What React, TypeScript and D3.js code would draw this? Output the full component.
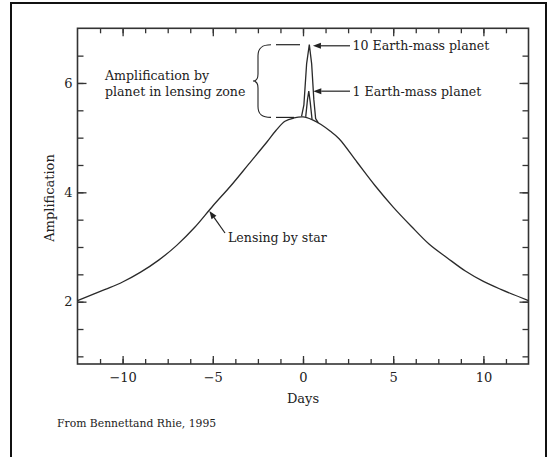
import React, { useRef, useEffect } from "react";
import * as d3 from "d3";

// curva di amplificazione della stella (giorni, amplificazione)
const starDays = [-12.5, -11, -10, -9, -8, -7, -6, -5, -4, -3, -2, -1.5, -1, -0.5, 0, 0.5, 1, 1.5, 2, 3, 4, 5, 6, 7, 8, 9, 10, 11, 12.5];
const starAmp = [2.02, 2.22, 2.36, 2.54, 2.76, 3.03, 3.36, 3.75, 4.12, 4.52, 4.92, 5.13, 5.3, 5.36, 5.38, 5.33, 5.24, 5.12, 4.98, 4.55, 4.12, 3.73, 3.38, 3.05, 2.8, 2.56, 2.37, 2.22, 2.02];

// picco del pianeta da 10 masse terrestri
const tenEarthDays = [-0.08, 0.05, 0.2, 0.35, 0.48, 0.6, 0.7, 0.85];
const tenEarthAmp = [5.39, 5.6, 6.35, 6.7, 6.35, 5.7, 5.35, 5.27];

// picco del pianeta da 1 massa terrestre
const oneEarthDays = [0.15, 0.25, 0.32, 0.4, 0.5];
const oneEarthAmp = [5.38, 5.7, 5.85, 5.65, 5.34];

const xMajorTicks = [-10, -5, 0, 5, 10];
const xMinorTicks = [-11.25, -10, -8.75, -7.5, -6.25, -5, -3.75, -2.5, -1.25, 0, 1.25, 2.5, 3.75, 5, 6.25, 7.5, 8.75, 10, 11.25];
const yMajorTicks = [2, 4, 6];
const yMinorTicks = [1, 1.5, 2, 2.5, 3, 3.5, 4, 4.5, 5, 5.5, 6, 6.5];

const FONT = "'DejaVu Serif', serif";
const INK = "#222";

export default function App() {
  const svgRef = useRef<SVGSVGElement | null>(null);

  useEffect(() => {
    const svg = d3.select(svgRef.current);
    svg.selectAll("*").remove();

    const width = 553;
    const height = 457;
    const left = 77.5, right = 528.5, top = 28.3, bottom = 364;

    const x = d3.scaleLinear().domain([-12.5, 12.5]).range([left, right]);
    const y = d3.scaleLinear().domain([0.86, 7.0]).range([bottom, top]);

    svg.append("rect").attr("width", width).attr("height", height).attr("fill", "#fff");

    // cornice esterna
    svg.append("path")
      .attr("d", `M11,${height + 5} L11,3 L546,3 L546,${height + 5}`)
      .attr("fill", "none")
      .attr("stroke", "#111")
      .attr("stroke-width", 2);

    const styleAxis = (g: any) => {
      g.select(".domain").remove();
      g.selectAll("line").attr("stroke", "#333").attr("stroke-width", 1.3);
      g.selectAll("text").style("font-family", FONT).style("font-size", "13px").attr("fill", INK);
    };

    // assi: tacche verso l'interno
    svg.append("g").attr("transform", `translate(0,${bottom})`)
      .call(d3.axisBottom(x).tickValues(xMinorTicks).tickSize(-5).tickFormat(() => ""))
      .call(styleAxis);
    svg.append("g").attr("transform", `translate(0,${bottom})`)
      .call(d3.axisBottom(x).tickValues(xMajorTicks).tickSize(-8).tickPadding(9).tickFormat(d3.format("d")))
      .call(styleAxis);
    svg.append("g").attr("transform", `translate(0,${top})`)
      .call(d3.axisTop(x).tickValues(xMinorTicks).tickSize(-5).tickFormat(() => ""))
      .call(styleAxis);
    svg.append("g").attr("transform", `translate(0,${top})`)
      .call(d3.axisTop(x).tickValues(xMajorTicks).tickSize(-8).tickFormat(() => ""))
      .call(styleAxis);

    svg.append("g").attr("transform", `translate(${left},0)`)
      .call(d3.axisLeft(y).tickValues(yMinorTicks).tickSize(-6).tickFormat(() => ""))
      .call(styleAxis);
    svg.append("g").attr("transform", `translate(${left},0)`)
      .call(d3.axisLeft(y).tickValues(yMajorTicks).tickSize(-9).tickPadding(5).tickFormat(d3.format("d")))
      .call(styleAxis);
    svg.append("g").attr("transform", `translate(${right},0)`)
      .call(d3.axisRight(y).tickValues(yMinorTicks).tickSize(-6).tickFormat(() => ""))
      .call(styleAxis);
    svg.append("g").attr("transform", `translate(${right},0)`)
      .call(d3.axisRight(y).tickValues(yMajorTicks).tickSize(-9).tickFormat(() => ""))
      .call(styleAxis);

    svg.append("rect")
      .attr("x", left).attr("y", top)
      .attr("width", right - left).attr("height", bottom - top)
      .attr("fill", "none").attr("stroke", "#333").attr("stroke-width", 1.6);

    // curve
    const line = d3.line<[number, number]>().x(d => x(d[0])).y(d => y(d[1]));
    const drawSeries = (days: number[], amp: number[], curve: any) => {
      svg.append("path")
        .datum(days.map((d, i) => [d, amp[i]] as [number, number]))
        .attr("d", line.curve(curve))
        .attr("fill", "none")
        .attr("stroke", "#2a2a2a")
        .attr("stroke-width", 1.3);
    };
    drawSeries(starDays, starAmp, d3.curveCatmullRom.alpha(0.5));
    drawSeries(tenEarthDays, tenEarthAmp, d3.curveLinear);
    drawSeries(oneEarthDays, oneEarthAmp, d3.curveLinear);

    // frecce
    const arrow = (tx: number, ty: number, sx: number, sy: number) => {
      const ang = Math.atan2(sy - ty, sx - tx);
      const len = 8, half = 3;
      const bx = tx + Math.cos(ang) * len, by = ty + Math.sin(ang) * len;
      svg.append("line")
        .attr("x1", bx).attr("y1", by).attr("x2", sx).attr("y2", sy)
        .attr("stroke", INK).attr("stroke-width", 1.2);
      const px = -Math.sin(ang) * half, py = Math.cos(ang) * half;
      svg.append("path")
        .attr("d", `M${tx},${ty} L${bx + px},${by + py} L${bx - px},${by - py} Z`)
        .attr("fill", INK);
    };
    arrow(x(0.55), y(6.68), 350, y(6.68));
    arrow(x(0.57), y(5.85), 350, y(5.85));
    arrow(x(-5.19), y(3.66), 225, 233);

    const text = (tx: number, ty: number, s: string, size = 12.6, anchor = "start") =>
      svg.append("text")
        .attr("x", tx).attr("y", ty)
        .attr("text-anchor", anchor)
        .style("font-family", FONT)
        .style("font-size", `${size}px`)
        .attr("fill", INK)
        .text(s);

    text(352.5, y(6.68) + 4.5, "10 Earth-mass planet");
    text(352.5, y(5.85) + 4.5, "1 Earth-mass planet");
    text(228, 241.5, "Lensing by star");
    text(105, 80, "Amplification by");
    text(105, 96, "planet in lensing zone");

    // parentesi graffa e tacche della zona
    const yTop = y(6.7), yBot = y(5.37);
    const yMid = (yTop + yBot) / 2;
    svg.append("path")
      .attr("d", `M271,${yTop} C262,${yTop} 258,${yTop + 3} 258,${yTop + 11} L258,${yMid - 7} C258,${yMid - 2} 256,${yMid} 253,${yMid} C256,${yMid} 258,${yMid + 2} 258,${yMid + 7} L258,${yBot - 11} C258,${yBot - 3} 262,${yBot} 271,${yBot}`)
      .attr("fill", "none").attr("stroke", INK).attr("stroke-width", 1.1);
    svg.append("line").attr("x1", 276).attr("x2", 300).attr("y1", yTop).attr("y2", yTop)
      .attr("stroke", INK).attr("stroke-width", 1.2);
    svg.append("line").attr("x1", 276).attr("x2", 294).attr("y1", yBot).attr("y2", yBot)
      .attr("stroke", INK).attr("stroke-width", 1.2);

    // titoli degli assi
    text(x(0), 403, "Days", 13, "middle");
    svg.append("text")
      .attr("transform", `translate(54,198) rotate(-90)`)
      .attr("text-anchor", "middle")
      .style("font-family", FONT)
      .style("font-size", "13px")
      .attr("fill", INK)
      .text("Amplification");

    text(57, 426.5, "From Bennettand Rhie, 1995", 10.8);
  }, []);

  return (
    <div style={{ position: "absolute", left: 0, top: 0 }}>
      <svg ref={svgRef} width={553} height={457} />
    </div>
  );
}
